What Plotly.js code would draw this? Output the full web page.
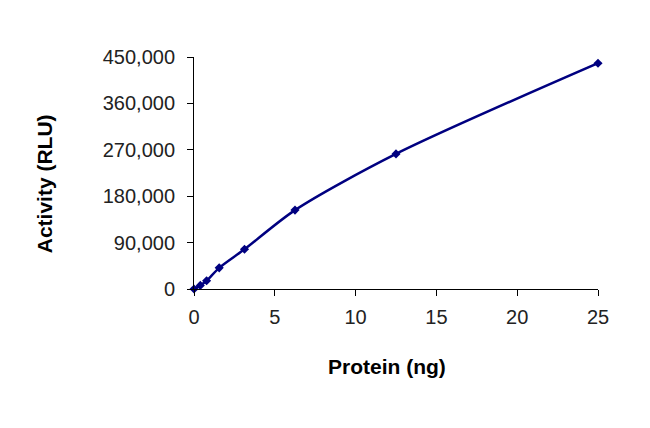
<!DOCTYPE html>
<html>
<head>
<meta charset="utf-8">
<script src="https://cdn.plot.ly/plotly-3.0.1.min.js"></script>
<style>
  html, body { margin: 0; padding: 0; background: #fff; }
  #chart { width: 650px; height: 428px; }
</style>
</head>
<body>
<div id="chart"></div>
<script>
// protein amount (ng) and measured activity (RLU)
var protein = [0, 0.39, 0.78, 1.56, 3.125, 6.25, 12.5, 25];
var activity = [0, 7000, 16000, 41000, 77000, 153000, 262000, 438000];

var xTicks = [0, 5, 10, 15, 20, 25];
var yTicks = [0, 90000, 180000, 270000, 360000, 450000];

var xTitle = 'Protein (ng)';
var yTitle = 'Activity (RLU)';

var trace = {
  x: protein,
  y: activity,
  type: 'scatter',
  mode: 'lines+markers',
  line: { color: '#000080', width: 2.5, shape: 'spline', smoothing: 0.8 },
  marker: { symbol: 'diamond', size: 7, color: '#000080' },
  cliponaxis: false,
  hoverinfo: 'x+y'
};

var layout = {
  width: 650,
  height: 428,
  margin: { l: 194, r: 52, t: 57, b: 139 },
  paper_bgcolor: '#fff',
  plot_bgcolor: '#fff',
  showlegend: false,
  font: { family: 'Liberation Sans, Arial, sans-serif', size: 20, color: '#000' },
  xaxis: {
    range: [0, 25],
    tickvals: xTicks,
    ticktext: xTicks.map(String),
    showgrid: false,
    zeroline: false,
    showline: true,
    linecolor: '#000',
    linewidth: 1,
    ticks: 'outside',
    ticklen: 6,
    tickcolor: '#000',
    ticklabelstandoff: 4,
    tickfont: { size: 20, color: '#222' }
  },
  yaxis: {
    range: [0, 450000],
    tickvals: yTicks,
    ticktext: yTicks.map(function (v) { return v.toLocaleString('en-US'); }),
    showgrid: false,
    zeroline: false,
    showline: true,
    linecolor: '#000',
    linewidth: 1,
    ticks: 'outside',
    ticklen: 6,
    tickcolor: '#000',
    ticklabelstandoff: 8,
    tickfont: { size: 20, color: '#222' }
  },
  // axis titles as annotations: Excel places them a bit off the plot centre
  annotations: [
    {
      xref: 'paper', yref: 'paper',
      x: 0.478, y: -0.336,
      xanchor: 'center', yanchor: 'middle',
      text: '<b>' + xTitle + '</b>',
      showarrow: false,
      font: { size: 21, color: '#000' }
    },
    {
      xref: 'paper', yref: 'paper',
      x: -0.371, y: 0.452,
      xanchor: 'center', yanchor: 'middle',
      text: '<b>' + yTitle + '</b>',
      textangle: -90,
      showarrow: false,
      font: { size: 21, color: '#000' }
    }
  ]
};

Plotly.newPlot('chart', [trace], layout, { displayModeBar: false, staticPlot: true });
</script>
</body>
</html>
